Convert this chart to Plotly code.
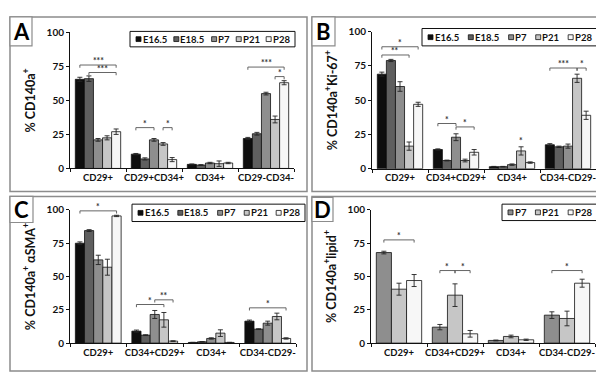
import plotly.graph_objects as go

W, H = 604, 372

# ---------------- data ----------------
series5 = ["E16.5", "E18.5", "P7", "P21", "P28"]
series3 = ["P7", "P21", "P28"]
colors = {"E16.5": "#0e0e0e", "E18.5": "#5f5f5f", "P7": "#8e8e8e",
          "P21": "#c6c6c6", "P28": "#f7f7f7"}

cats_A = ["CD29+", "CD29+CD34+", "CD34+", "CD29-CD34-"]
cats_B = ["CD29+", "CD34+CD29+", "CD34+", "CD34-CD29-"]
cats_C = ["CD29+", "CD34+CD29+", "CD34+", "CD34-CD29-"]
cats_D = ["CD29+", "CD34+CD29+", "CD34+", "CD34-CD29-"]

A_mean = {"E16.5": [65.5, 10.5, 3.0, 22.0],
          "E18.5": [66.0, 7.0, 2.5, 25.5],
          "P7":    [21.0, 21.0, 4.0, 55.0],
          "P21":   [22.5, 18.0, 3.5, 36.0],
          "P28":   [27.0, 6.5, 4.0, 63.0]}
A_err = {"E16.5": [1.5, 0.5, 0.3, 0.8],
         "E18.5": [2.0, 0.8, 0.3, 1.0],
         "P7":    [1.0, 1.0, 0.5, 1.0],
         "P21":   [1.5, 1.0, 2.0, 2.5],
         "P28":   [2.0, 1.5, 0.5, 1.5]}

B_mean = {"E16.5": [69.0, 14.0, 1.5, 17.5],
          "E18.5": [79.0, 6.0, 1.5, 16.0],
          "P7":    [60.0, 23.0, 3.0, 16.5],
          "P21":   [16.5, 6.0, 13.0, 66.0],
          "P28":   [47.0, 12.0, 4.5, 39.0]}
B_err = {"E16.5": [1.5, 0.5, 0.2, 0.8],
         "E18.5": [0.8, 0.3, 0.2, 0.5],
         "P7":    [3.5, 2.5, 0.5, 1.5],
         "P21":   [3.0, 1.0, 3.0, 3.0],
         "P28":   [1.5, 2.0, 0.5, 3.0]}

C_mean = {"E16.5": [75.0, 9.0, 0.5, 16.5],
          "E18.5": [84.5, 6.0, 1.0, 10.5],
          "P7":    [62.5, 21.5, 3.5, 15.0],
          "P21":   [57.0, 17.5, 7.5, 20.0],
          "P28":   [95.5, 1.5, 0.5, 3.5]}
C_err = {"E16.5": [1.0, 0.8, 0.1, 0.8],
         "E18.5": [0.7, 0.3, 0.1, 0.3],
         "P7":    [3.5, 3.0, 0.5, 1.5],
         "P21":   [6.0, 5.5, 2.5, 2.5],
         "P28":   [0.5, 0.3, 0.1, 0.5]}

D_mean = {"P7":  [68.0, 12.0, 2.0, 21.0],
          "P21": [40.5, 36.0, 5.0, 18.5],
          "P28": [47.0, 7.0, 2.5, 45.0]}
D_err = {"P7":  [1.0, 2.0, 0.3, 2.5],
         "P21": [4.5, 8.5, 1.0, 5.5],
         "P28": [4.5, 2.5, 0.5, 3.0]}

# significance brackets: (category index, from series, to series, y, label)
A_sig = [(0, "E16.5", "P28", 76.0, "***"), (0, "E18.5", "P28", 70.5, "***"),
         (1, "E16.5", "P7", 30.0, "*"), (1, "P21", "P28", 30.0, "*"),
         (3, "E16.5", "P28", 74.5, "***"), (3, "P21", "P28", 67.5, "*")]
B_sig = [(0, "E16.5", "P28", 89.0, "*"), (0, "E16.5", "P21", 83.0, "**"),
         (1, "E16.5", "P7", 33.0, "*"), (1, "P7", "P28", 30.5, "*"),
         (2, "P21", "P21", 17.5, "*"),
         (3, "E16.5", "P21", 73.5, "***"), (3, "P21", "P28", 73.5, "*")]
C_sig = [(0, "E16.5", "P28", 99.3, "*"),
         (1, "E16.5", "P21", 29.0, "*"), (1, "P7", "P28", 32.5, "**"),
         (3, "E16.5", "P28", 26.5, "*")]
D_sig = [(0, "P7", "P28", 77.5, "*"),
         (1, "P7", "P21", 54.5, "*"), (1, "P21", "P28", 54.5, "*"),
         (3, "P7", "P28", 54.5, "*")]

y_titles = ["% CD140a<sup>+</sup>",
            "% CD140a<sup>+</sup>Ki-67<sup>+</sup>",
            "% CD140a<sup>+</sup> αSMA<sup>+</sup>",
            "% CD140a<sup>+</sup>lipid<sup>+</sup>"]
letters = ["A", "B", "C", "D"]
y_ticks = [0, 25, 50, 75, 100]

# ---------------- layout geometry (pixels) ----------------
FONT = "Lato"
BARGAP = 0.19

panels = [
    dict(cats=cats_A, series=series5, mean=A_mean, err=A_err, sig=A_sig,
         ax=(62, 286), y0=159, y100=18, border=(2, 2, 299, 183),
         lbox=(2, 2, 24, 32), legend=(122, 17, 287, 33)),
    dict(cats=cats_B, series=series5, mean=B_mean, err=B_err, sig=B_sig,
         ax=(364, 588), y0=159.3, y100=17.3, border=(304, 2, 601, 183),
         lbox=(304, 2, 327, 32), legend=(414, 14, 589, 32)),
    dict(cats=cats_C, series=series5, mean=C_mean, err=C_err, sig=C_sig,
         ax=(62, 288), y0=340, y100=202, border=(2, 188, 299, 369),
         lbox=(2, 188, 25, 215), legend=(124, 196, 297, 214)),
    dict(cats=cats_D, series=series3, mean=D_mean, err=D_err, sig=D_sig,
         ax=(363, 587), y0=340, y100=202, border=(304, 188, 601, 369),
         lbox=(304, 189, 325, 214), legend=(494, 196, 589, 213)),
]

def px(x):
    return x / W

def py(y):
    return 1 - y / H

fig = go.Figure()
shapes = []
annotations = []

def text_w(s, size):
    w = 0
    for ch in s:
        if ch == ".":
            w += 0.27
        elif ch.isdigit():
            w += 0.56
        else:
            w += 0.6
    return w * size

for i, p in enumerate(panels):
    n = i + 1
    xa = "x" if n == 1 else f"x{n}"
    ya = "y" if n == 1 else f"y{n}"
    xkey = "xaxis" if n == 1 else f"xaxis{n}"
    ykey = "yaxis" if n == 1 else f"yaxis{n}"
    series = p["series"]
    for s in series:
        fig.add_trace(go.Bar(
            x=p["cats"], y=p["mean"][s], name=s, xaxis=xa, yaxis=ya,
            marker=dict(color=colors[s], line=dict(color="#111111", width=0.8)),
            error_y=dict(type="data", array=p["err"][s], color="#222222",
                         thickness=0.9, width=2.5),
            showlegend=False))
    fig.update_layout(**{
        xkey: dict(domain=[px(p["ax"][0]), px(p["ax"][1])], anchor=ya,
                   type="category", range=[-0.5, 3.5], showline=True,
                   linecolor="#111111", linewidth=1, ticks="outside",
                   tickson="boundaries", ticklen=3, tickcolor="#111111",
                   tickangle=0,
                   tickfont=dict(family=FONT, size=9.5, color="#111111", weight="bold"),
                   showgrid=False, zeroline=False, fixedrange=True),
        ykey: dict(domain=[py(p["y0"]), py(p["y100"])], anchor=xa,
                   range=[0, 100], tickvals=y_ticks, showline=True,
                   linecolor="#111111", linewidth=1, ticks="outside", ticklen=3,
                   tickcolor="#111111", showgrid=False, zeroline=False,
                   tickfont=dict(family=FONT, size=10, color="#111111", weight="bold"),
                   title=dict(text=y_titles[i], standoff=8,
                              font=dict(family=FONT, size=12.5, color="#111111", weight="bold")),
                   fixedrange=True),
    })
    # panel border
    bx0, by0, bx1, by1 = p["border"]
    shapes.append(dict(type="rect", xref="paper", yref="paper",
                       x0=px(bx0), x1=px(bx1), y0=py(by1), y1=py(by0),
                       line=dict(color="#8c8c8c", width=1.5)))
    # letter box
    lx0, ly0, lx1, ly1 = p["lbox"]
    shapes.append(dict(type="rect", xref="paper", yref="paper",
                       x0=px(lx0), x1=px(lx1), y0=py(ly1), y1=py(ly0),
                       line=dict(color="#8c8c8c", width=1.2), fillcolor="white"))
    annotations.append(dict(xref="paper", yref="paper", x=px((lx0 + lx1) / 2),
                            y=py((ly0 + ly1) / 2), text=letters[i], showarrow=False,
                            font=dict(family=FONT, size=22, color="#000000", weight="bold"),
                            xanchor="center", yanchor="middle"))
    # legend box
    gx0, gy0, gx1, gy1 = p["legend"]
    shapes.append(dict(type="rect", xref="paper", yref="paper",
                       x0=px(gx0), x1=px(gx1), y0=py(gy1), y1=py(gy0),
                       line=dict(color="#111111", width=1), fillcolor="white"))
    lsize = 9.5
    sq = 5
    pad = 6
    widths = [sq + 1.5 + text_w(s, lsize) for s in series]
    gap = (gx1 - gx0 - 2 * pad - sum(widths)) / max(len(series) - 1, 1)
    cx = gx0 + pad
    cy = (gy0 + gy1) / 2
    for s, w in zip(series, widths):
        shapes.append(dict(type="rect", xref="paper", yref="paper",
                           x0=px(cx), x1=px(cx + sq), y0=py(cy + sq / 2), y1=py(cy - sq / 2),
                           line=dict(color="#111111", width=0.8), fillcolor=colors[s]))
        annotations.append(dict(xref="paper", yref="paper", x=px(cx + sq + 0.5), y=py(cy),
                                text=s, showarrow=False, xanchor="left", yanchor="middle",
                                borderpad=0,
                                font=dict(family=FONT, size=lsize, color="#111111", weight="bold")))
        cx += w + gap
    # significance brackets
    ns = len(series)
    bw = (1 - BARGAP) / ns
    def bar_x(c, s):
        k = series.index(s)
        return c - (1 - BARGAP) / 2 + (k + 0.5) * bw
    tick = 2.0
    for (c, s1, s2, yv, lab) in p["sig"]:
        x1 = bar_x(c, s1)
        x2 = bar_x(c, s2)
        if s1 != s2:
            shapes.append(dict(type="path", xref=xa, yref=ya,
                               path=f"M {x1},{yv - tick} L {x1},{yv} L {x2},{yv} L {x2},{yv - tick}",
                               line=dict(color="#555555", width=0.9)))
        annotations.append(dict(xref=xa, yref=ya, x=(x1 + x2) / 2, y=yv,
                                text=lab, showarrow=False, yanchor="bottom",
                                yshift=-2, borderpad=0,
                                font=dict(family=FONT, size=8.5, color="#333333", weight="bold")))

fig.update_layout(
    width=W, height=H, margin=dict(l=0, r=0, t=0, b=0),
    paper_bgcolor="white", plot_bgcolor="white",
    barmode="group", bargap=BARGAP, bargroupgap=0,
    shapes=shapes, annotations=annotations, showlegend=False,
    font=dict(family=FONT, color="#111111"),
)

fig.write_html("out.html")
